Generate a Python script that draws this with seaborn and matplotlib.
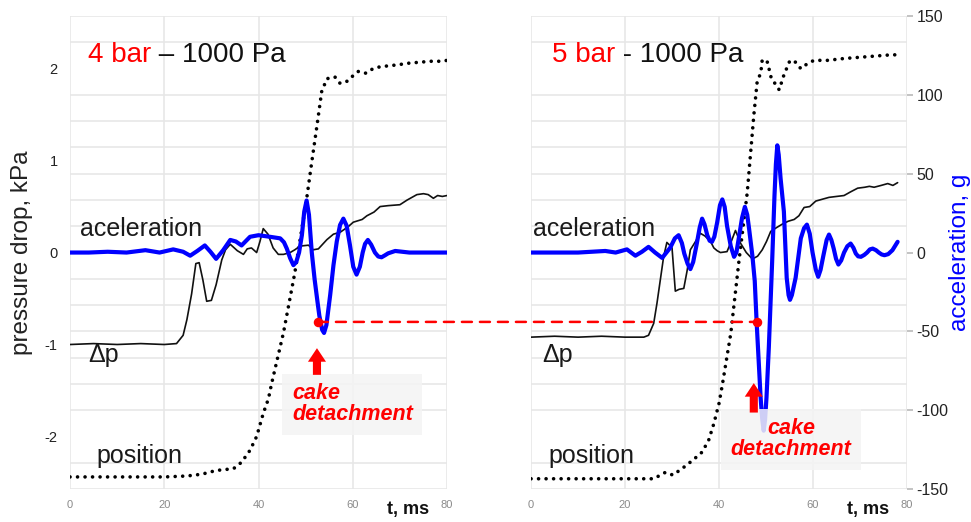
import numpy as np
import pandas as pd
import matplotlib
matplotlib.use("Agg")
import matplotlib.pyplot as plt
from matplotlib.patches import ConnectionPatch
import seaborn as sns

# ---- data ----
# left panel: 4 bar - 1000 Pa
t_acc_4 = [0, 4, 8, 12, 16, 19, 21.9, 24, 25.5, 27, 28.6, 29.8, 31, 32.5, 34, 35.2, 36.4,
           38.2, 40.0, 42.4, 44.6, 45.4, 46.0, 46.7, 47.4, 48.0, 48.6, 49.2, 49.7, 50.2,
           50.7, 51.3, 51.9, 52.5, 52.9, 53.5, 53.9, 54.4, 55.2, 55.9, 56.6, 57.3, 58.0,
           58.7, 59.4, 60.1, 60.8, 61.5, 62.1, 62.6, 63.2, 63.9, 64.7, 65.4, 66.1, 66.8,
           67.5, 69.0, 72, 76, 80]
acc_4 = [0, 0, 0.5, 0, 1.5, 0, 2, 0.5, -2, 1, 4.5, 0.5, -4, 1.5, 8, 7, 4.5,
         10, 11, 10, 9, 6.5, 2.5, -3.5, -8, -6, 0, 11, 26, 33,
         24, 0, -17, -31, -40, -49, -51, -46, -27, -8, 7, 17.5, 21.5,
         17, 4.6, -9, -14, -9, 0, 5.5, 8, 5, 0, -2.5, -3, -1.8,
         -0.5, 1, 0, 0, 0]

t_dp_4 = [0, 5, 10, 15, 20, 22.6, 24, 24.8, 25.8, 26.7, 27.4, 28.2, 29, 30, 31, 32.2, 33, 34,
          35.5, 36.8, 37.6, 38.5, 39.6, 40.3, 41, 42, 43.1, 44.2, 45.3, 46.7, 47.7, 48.8,
          50.6, 51.6, 52.7, 54.5, 55.9, 57.3, 59, 60.1, 62, 63, 64.5, 65.8, 67.5, 70,
          71.5, 73.6, 75, 76, 77.1, 78, 79, 80]
dp_4 = [-1.0, -0.99, -1.0, -0.99, -1.0, -0.99, -0.9, -0.73, -0.45, -0.12, -0.11, -0.3, -0.53,
        -0.52, -0.35, -0.08, 0.03, 0.09, 0.02, -0.02, 0.04, 0.05, 0.0, 0.12, 0.26, 0.2, 0.05,
        -0.02, -0.02, 0.0, 0.03, 0.07, 0.08, 0.03, 0.04, 0.14, 0.2, 0.22, 0.28, 0.33, 0.36,
        0.4, 0.44, 0.5, 0.51, 0.52, 0.57, 0.63, 0.64, 0.63, 0.59, 0.62, 0.61, 0.62]

t_pos_4 = [0, 5, 10, 15, 20, 24.8, 28, 31, 34.7, 36.4, 38.2, 39.6, 41, 42.1, 42.8, 45.3,
           47.7, 50.2, 51.2, 52.4, 53.4, 54.5, 55.3, 56.2, 57.3, 58.7, 60, 61.2, 62.8,
           64.3, 65.8, 67.5, 69.3, 72, 74.3, 76.5, 78.9, 80]
pos_4 = [-2.44, -2.44, -2.44, -2.44, -2.44, -2.43, -2.41, -2.37, -2.35, -2.28, -2.15, -2.0,
         -1.75, -1.59, -1.42, -0.87, -0.22, 0.58, 0.95, 1.38, 1.75, 1.89, 1.90, 1.91, 1.84,
         1.86, 1.92, 1.97, 1.95, 2.0, 2.02, 2.03, 2.04, 2.06, 2.07, 2.08, 2.08, 2.09]

# right panel: 5 bar - 1000 Pa
t_acc_5 = [0, 5, 10, 15.8, 18, 20.4, 22.2, 23.6, 25.0, 26.4,
           27.9, 29.6, 30.6, 31.4, 32.1, 32.6, 33.3, 33.9, 34.5, 35.2,
           35.9, 36.4, 36.9, 37.5, 38.0, 38.5, 39.0, 39.6, 40.2, 40.7,
           41.2, 41.7, 42.5, 43.2, 43.7, 44.2, 44.9, 45.5, 46.0, 46.4,
           47.1, 47.6, 48.0, 48.85, 49.2, 49.5, 49.8, 50.1, 50.6, 51.3,
           51.8, 52.1, 52.4, 52.7, 53.1, 53.8, 54.4, 54.8, 55.1, 55.5,
           56.3, 57.4, 58.1, 58.7, 59.3, 59.9, 60.6, 61.1, 61.6, 62.2,
           62.9, 63.4, 63.9, 64.4, 64.9, 65.4, 66.0, 66.6, 67.3, 68.0,
           68.6, 69.1, 69.6, 70.2, 70.9, 71.5, 72.1, 72.7, 73.4, 74.0,
           74.6, 75.2, 76.0, 76.9, 78.0]
acc_5 = [0, 0, 0, 1, 0, 2, -2, 0.5, 3.6, 0,
         -3.4, 3, 9, 11, 6, -0.6, -7, -10.5, -6, 4.6,
         16, 21.5, 18, 11, 7.5, 6.8, 10, 19, 30, 33.7,
         29, 17, 4, -2.7, 0, 9, 22, 29, 24, 15,
         -2, -18, -44, -92, -106, -113, -106, -92, -60, -6,
         36, 56, 68, 62, 47, 26, -16, -27, -30, -27,
         -16, 9, 15.5, 17.7, 12, 0, -11, -15.4, -11, -2,
         8, 11.4, 8, 2.5, -4, -7.6, -5, 0, 4, 5.7,
         3, -0.6, -2.4, -2.7, -1.5, 0, 2, 2.5, 1.5, 0,
         -1.2, -1.7, -1, 1.5, 6.8]

t_dp_5 = [0, 5, 10, 15, 20, 24, 25, 26.1, 26.8, 27.5, 28.2, 28.9, 29.5, 30.0, 30.7, 31.5,
          32.5, 33.2, 33.9, 35, 36, 37, 38.2, 38.9, 39.6, 40.3, 41.7, 42.6, 43.5, 44.6,
          45.8, 47.1, 48.2, 49.2, 50.1, 51, 52.2, 53.5, 54.7, 56, 57, 58.1, 59.3, 60.6,
          62, 63.4, 65, 66.6, 68, 69.5, 71, 72, 73, 74.5, 75.9, 77, 78]
dp_5 = [-0.92, -0.91, -0.92, -0.91, -0.92, -0.92, -0.9, -0.77, -0.55, -0.3, -0.05, 0.11,
        0.08, 0.05, -0.42, -0.4, -0.39, -0.2, 0.03, 0.12, 0.21, 0.18, 0.12, 0.05, 0.02,
        0.0, 0.01, 0.12, 0.24, 0.1, 0.0, -0.07, -0.04, 0.03, 0.12, 0.23, 0.27, 0.31, 0.34,
        0.36, 0.4, 0.49, 0.5, 0.56, 0.58, 0.6, 0.61, 0.62, 0.66, 0.7, 0.71, 0.72, 0.71,
        0.73, 0.75, 0.73, 0.76]

t_pos_5 = [0, 5, 10, 15, 20, 26.1, 28.6, 30.2, 32.9, 34.6, 36.4, 37.8, 38.9, 40.0, 40.7,
           42.5, 44.2, 46.0, 47.4, 48.1, 48.9, 49.2, 50.3, 51.1, 52.8, 53.8, 55.1, 56.3,
           57.4, 58.7, 60.2, 63.1, 66.6, 71.6, 76.6, 78]
pos_5 = [-2.46, -2.46, -2.46, -2.46, -2.46, -2.46, -2.39, -2.42, -2.32, -2.25, -2.17, -2.04,
         -1.86, -1.64, -1.44, -0.88, -0.11, 0.65, 1.49, 1.85, 1.96, 2.1, 2.07, 1.9, 1.77,
         1.93, 2.09, 2.07, 2.0, 2.05, 2.09, 2.09, 2.11, 2.13, 2.15, 2.15]

# cake detachment points (t, acceleration)
detach_t = [52.6, 48.0]
detach_acc = [-44, -44]

YL = 18 / 7  # kPa half-range

sns.set_theme(style="whitegrid")
plt.rcParams['font.family'] = ['Liberation Sans', 'DejaVu Sans']
plt.rcParams['axes.unicode_minus'] = False

fig = plt.figure(figsize=(9.71, 5.22), dpi=100)
ax1 = fig.add_axes([0.0721, 0.0632, 0.3883, 0.906])
ax2 = fig.add_axes([0.5469, 0.0632, 0.3872, 0.906])

grid_c = '#e6e6e6'


def setup(ax):
    ax.set_xlim(0, 80)
    ax.set_ylim(-YL, YL)
    ax.set_xticks([0, 20, 40, 60, 80])
    ax.set_yticks([-2, -1, 0, 1, 2])
    ax.set_yticks(np.linspace(-YL, YL, 19), minor=True)
    ax.grid(False)
    ax.grid(True, axis='x', which='major', color=grid_c, lw=1.1)
    ax.grid(True, axis='y', which='minor', color=grid_c, lw=1.1)
    ax.tick_params(axis='x', labelsize=8, labelcolor='#8a8a8a', length=0, pad=8)
    ax.tick_params(axis='y', which='both', length=0, labelsize=10.5,
                   labelcolor='#222222', pad=9)
    for s in ax.spines.values():
        s.set_visible(False)
    tw = ax.twinx()
    tw.set_ylim(-150, 150)
    tw.xaxis.grid(False)
    tw.yaxis.grid(False)
    for s in tw.spines.values():
        s.set_visible(False)
    return tw


tw1 = setup(ax1)
tw2 = setup(ax2)

panels = [
    (ax1, tw1, t_acc_4, acc_4, t_dp_4, dp_4, t_pos_4, pos_4),
    (ax2, tw2, t_acc_5, acc_5, t_dp_5, dp_5, t_pos_5, pos_5),
]
for ax, tw, ta, a, td, d, tp, p in panels:
    sns.lineplot(x=tp, y=p, ax=ax, color='black', lw=2.6, estimator=None, sort=False,
                 linestyle=(0, (0.01, 2.07)), dash_capstyle='round')
    sns.lineplot(x=td, y=d, ax=ax, color='#111111', lw=1.2, estimator=None, sort=False)
    sns.lineplot(x=ta, y=a, ax=tw, color='#0000ff', lw=3, estimator=None, sort=False,
                 solid_joinstyle='round', solid_capstyle='round')
    tw.xaxis.grid(False)
    tw.yaxis.grid(False)
    ax.set_xlabel('')
    ax.set_ylabel('')
    tw.set_xlabel('')
    ax.text(0.84, -0.044, 't, ms', transform=ax.transAxes, fontsize=13,
            fontweight='bold', color='#111111', va='center', ha='left')

# axis labels / ticks
ax1.set_ylabel('pressure drop, kPa', fontsize=17.5, color='#222222', labelpad=8)
ax2.tick_params(axis='y', labelleft=False)
tw1.set_yticks([])
tw1.set_ylabel('')
tw2.set_yticks(range(-150, 151, 50))
tw2.tick_params(axis='y', labelsize=11.5, labelcolor='#222222', length=4,
                color='#bbbbbb', pad=3)
tw2.set_ylabel('acceleration, g', color='#0000ff', fontsize=17.5, labelpad=0)

# titles
h1 = ax1.text(3.8, 2.15, '4 bar', color='#ff0000', fontsize=20, va='center')
ax1.annotate(' \u2013 1000 Pa', xy=(1, 0), xycoords=h1, va='bottom', ha='left',
             fontsize=20, color='#111111')
h2 = ax2.text(4.5, 2.15, '5 bar', color='#ff0000', fontsize=20, va='center')
ax2.annotate(' - 1000 Pa', xy=(1, 0), xycoords=h2, va='bottom', ha='left',
             fontsize=20, color='#111111')

# curve labels
for ax, xs in [(ax1, (2.1, 3.8, 5.7)), (ax2, (0.4, 2.3, 3.8))]:
    ax.text(xs[0], 0.26, 'aceleration', fontsize=18, color='#1a1a1a', va='center')
    ax.text(xs[1], -1.11, '\u0394p', fontsize=18, color='#1a1a1a', va='center')
    ax.text(xs[2], -2.21, 'position', fontsize=18, color='#1a1a1a', va='center')

# cake detachment notes
box = dict(boxstyle='square,pad=0.45', fc='#f4f4f4', ec='none', alpha=0.85)
tw1.text(47.1, -1.65, 'cake\ndetachment', transform=ax1.transData, color='#ff0000',
         fontsize=15.5, fontweight='bold', fontstyle='italic', ha='left', va='center',
         multialignment='left', linespacing=1.0, bbox=box, zorder=5)
tw2.text(55.3, -2.03, 'cake\ndetachment', transform=ax2.transData, color='#ff0000',
         fontsize=15.5, fontweight='bold', fontstyle='italic', ha='center', va='center',
         multialignment='center', linespacing=1.0, bbox=box, zorder=5)

arrow = dict(arrowstyle='simple,head_length=0.75,head_width=1.0,tail_width=0.45',
             fc='#ff0000', ec='none', mutation_scale=13, shrinkA=0, shrinkB=0)
tw1.annotate('', xy=(52.4, -1.04), xytext=(52.4, -1.33), xycoords=ax1.transData,
             textcoords=ax1.transData, arrowprops=arrow, zorder=6)
tw2.annotate('', xy=(47.4, -1.42), xytext=(47.4, -1.74), xycoords=ax2.transData,
             textcoords=ax2.transData, arrowprops=arrow, zorder=6)

# dashed link between detachment points
con = ConnectionPatch(xyA=(detach_t[0], detach_acc[0]), coordsA=tw1.transData,
                      xyB=(detach_t[1], detach_acc[1]), coordsB=tw2.transData,
                      color='#ff0000', lw=1.8, linestyle=(0, (4, 3.2)))
fig.add_artist(con)
tw1.scatter([detach_t[0]], [detach_acc[0]], s=34, color='#ff0000', zorder=7)
tw2.scatter([detach_t[1]], [detach_acc[1]], s=34, color='#ff0000', zorder=7)

fig.savefig('out.png', dpi=100)
